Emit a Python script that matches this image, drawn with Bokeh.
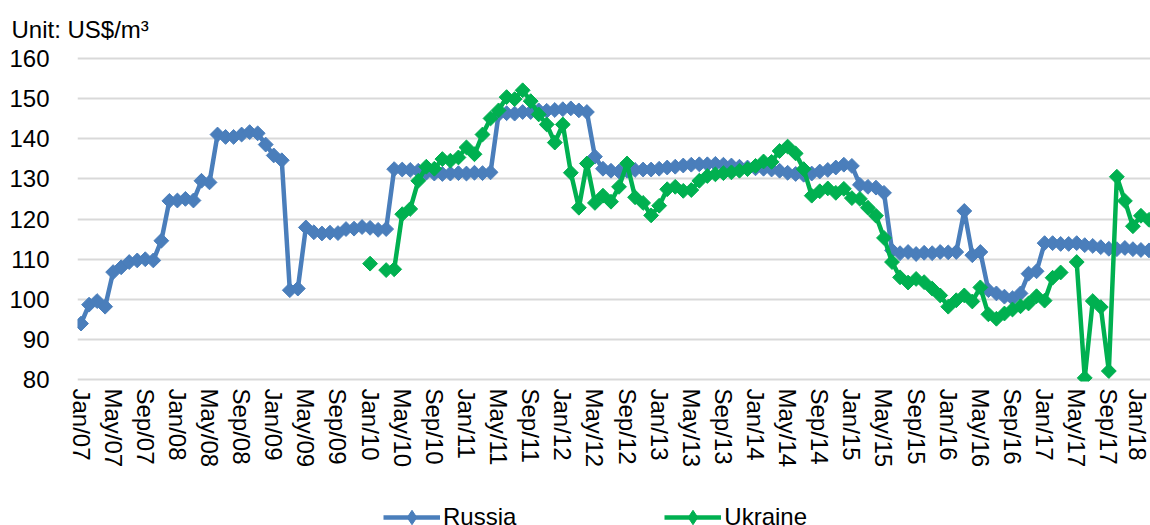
import math
from bokeh.plotting import figure
from bokeh.layouts import column
from bokeh.models import Range1d, FixedTicker, Legend, LegendItem, ColumnDataSource
from bokeh.embed import file_html
from bokeh.resources import INLINE

NaN = float("nan")

# Tick labels (every 4th month, Jan/07 .. Jan/18)
tick_labels = ["Jan/07", "May/07", "Sep/07", "Jan/08", "May/08", "Sep/08", "Jan/09", "May/09",
               "Sep/09", "Jan/10", "May/10", "Sep/10", "Jan/11", "May/11", "Sep/11", "Jan/12",
               "May/12", "Sep/12", "Jan/13", "May/13", "Sep/13", "Jan/14", "May/14", "Sep/14",
               "Jan/15", "May/15", "Sep/15", "Jan/16", "May/16", "Sep/16", "Jan/17", "May/17",
               "Sep/17", "Jan/18"]
y_ticks = [80, 90, 100, 110, 120, 130, 140, 150, 160]

# Monthly prices, US$/m3, from Jan/07
russia = [94.0, 98.7, 99.6, 98.2, 106.8, 108.0, 109.3, 109.7, 110.0, 109.7,
          114.6, 124.5, 124.6, 125.0, 124.6, 129.5, 129.1, 141.0, 140.4, 140.4,
          141.0, 141.6, 141.3, 138.5, 135.8, 134.6, 102.3, 102.7, 117.9, 116.7,
          116.4, 116.6, 116.5, 117.5, 117.6, 118.0, 117.8, 117.3, 117.5, 132.4,
          132.3, 132.2, 132.0, 131.5, 131.3, 131.2, 131.3, 131.4, 131.3, 131.5,
          131.4, 131.6, 146.0, 146.3, 146.2, 146.6, 146.6, 147.0, 146.9, 147.1,
          147.3, 147.5, 147.0, 146.6, 135.5, 132.5, 132.0, 131.8, 132.0, 132.2,
          132.3, 132.3, 132.5, 132.8, 133.0, 133.3, 133.5, 133.6, 133.6, 133.7,
          133.5, 133.3, 133.0, 132.8, 132.6, 132.5, 132.3, 132.0, 131.5, 131.2,
          131.0, 131.3, 131.8, 132.2, 132.8, 133.5, 133.2, 128.5, 128.0, 127.8,
          126.5, 112.2, 111.5, 111.8, 111.3, 111.6, 111.5, 111.8, 111.7, 111.8,
          122.0, 111.0, 111.8, 102.3, 101.5, 100.7, 100.3, 101.5, 106.4, 107.0,
          114.0, 114.0, 113.8, 113.8, 114.0, 113.5, 113.3, 113.0, 112.6, 112.5,
          112.8, 112.5, 112.3, 112.2]

ukraine = [NaN] * 36 + [
          108.9, NaN, 107.3, 107.5, 121.2, 122.5, 129.5, 133.0, 132.5, 134.9,
          134.5, 135.3, 137.8, 136.1, 141.0, 145.0, 147.0, 150.3, 149.8, 152.0,
          149.3, 146.0, 143.5, 139.0, 143.5, 131.5, 122.8, 133.8, 124.0, 125.8,
          124.3, 128.0, 133.8, 125.4, 124.0, 120.9, 123.3, 127.4, 128.0, 127.0,
          127.2, 129.5, 130.7, 131.1, 131.4, 131.6, 132.0, 132.4, 133.2, 134.3,
          134.2, 136.9, 138.0, 136.3, 132.4, 125.8, 126.9, 127.6, 126.5, 127.5,
          125.2, 125.0, 122.8, 120.8, 115.3, 109.3, 105.5, 104.2, 105.1, 104.3,
          102.7, 101.0, 98.2, 99.8, 101.0, 99.5, 103.0, 96.3, 95.2, 96.5,
          97.5, 98.3, 99.0, 100.8, 99.7, 105.4, 106.7, NaN, 109.3, 80.5,
          99.6, 98.1, 82.2, 130.5, 124.5, 118.2, 120.8, 119.8]

months = list(range(len(russia)))

FONT = "Liberation Sans"
FS = "24px"
BLUE = "#4a7ebb"
GREEN = "#00b050"
MSIZE = 10.5
LW = 4.5

src = ColumnDataSource(dict(m=months, ru=russia, ua=ukraine))

p = figure(width=1150, height=491, output_backend="svg", toolbar_location=None,
           x_range=Range1d(-0.44, 133.19), y_range=Range1d(79.6, 160.4),
           min_border_left=77, min_border_right=0, min_border_top=55, min_border_bottom=110)
p.outline_line_color = None
p.background_fill_color = "white"
p.border_fill_color = "white"

# unit text
p.title.text = "Unit: US$/m³"
p.title.align = "left"
p.title.offset = -66
p.title.standoff = 27
p.title.text_font = FONT
p.title.text_font_size = FS
p.title.text_font_style = "normal"
p.title.text_color = "black"

# grid
p.xgrid.visible = False
p.ygrid.ticker = FixedTicker(ticks=y_ticks)
p.ygrid.grid_line_color = "#d9d9d9"
p.ygrid.grid_line_width = 2

# y axis
p.yaxis.ticker = FixedTicker(ticks=y_ticks)
p.yaxis.axis_line_color = None
p.yaxis.major_tick_line_color = None
p.yaxis.minor_tick_line_color = None
p.yaxis.major_tick_out = 0
p.yaxis.major_tick_in = 0
p.yaxis.major_label_standoff = 28
p.yaxis.major_label_text_font = FONT
p.yaxis.major_label_text_font_size = FS
p.yaxis.major_label_text_color = "black"

# x axis
xt = [4 * i for i in range(len(tick_labels))]
p.xaxis.ticker = FixedTicker(ticks=xt)
p.xaxis.major_label_overrides = {t: lab for t, lab in zip(xt, tick_labels)}
p.xaxis.major_label_orientation = "vertical"
p.xaxis.axis_line_color = None
p.xaxis.major_tick_line_color = None
p.xaxis.minor_tick_line_color = None
p.xaxis.major_tick_out = 0
p.xaxis.major_tick_in = 0
p.xaxis.major_label_standoff = 7
p.xaxis.major_label_text_font = FONT
p.xaxis.major_label_text_font_size = FS
p.xaxis.major_label_text_color = "black"

# series
p.line("m", "ru", source=src, line_color=BLUE, line_width=LW)
p.scatter("m", "ru", source=src, marker="square", size=MSIZE, angle=math.pi / 4,
          fill_color=BLUE, line_color=BLUE)
p.line("m", "ua", source=src, line_color=GREEN, line_width=LW)
p.scatter("m", "ua", source=src, marker="square", size=MSIZE, angle=math.pi / 4,
          fill_color=GREEN, line_color=GREEN)

# legend strip below the chart (its renderers lie outside its visible range)
lf = figure(width=1150, height=34, output_backend="svg", toolbar_location=None,
            x_axis_type=None, y_axis_type=None,
            x_range=Range1d(-10, -9), y_range=Range1d(-10, -9), min_border=0)
lf.grid.visible = False
lf.outline_line_color = None
lf.background_fill_color = "white"
lf.border_fill_color = "white"
l1 = lf.line("m", "ru", source=src, line_color=BLUE, line_width=LW)
l1m = lf.scatter("m", "ru", source=src, marker="diamond", size=MSIZE,
                 fill_color=BLUE, line_color=BLUE)
l2 = lf.line("m", "ua", source=src, line_color=GREEN, line_width=LW)
l2m = lf.scatter("m", "ua", source=src, marker="diamond", size=MSIZE,
                 fill_color=GREEN, line_color=GREEN)

legend = Legend(items=[LegendItem(label="Russia", renderers=[l1, l1m]),
                       LegendItem(label="Ukraine", renderers=[l2, l2m])],
                location=(306, -10), orientation="horizontal",
                glyph_width=57, glyph_height=36, label_standoff=3, spacing=148,
                padding=0, margin=0, border_line_color=None, background_fill_alpha=0,
                label_text_font=FONT, label_text_font_size=FS, label_text_color="black")
lf.add_layout(legend, "center")

layout = column(p, lf, spacing=0)
open("out.html", "w").write(file_html(layout, INLINE))
